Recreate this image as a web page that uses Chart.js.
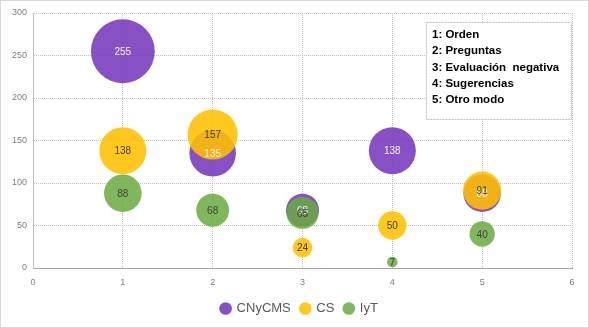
<!DOCTYPE html>
<html><head><meta charset="utf-8">
<script src="https://cdn.jsdelivr.net/npm/chart.js@4/dist/chart.umd.min.js"></script>
<style>
html,body{margin:0;padding:0;background:#fff;}
#wrap{position:relative;width:587px;height:326px;border:1px solid #D9D9D9;}
</style></head>
<body><div id="wrap"><canvas id="c" width="587" height="326"></canvas></div>
<script>
const categories = [1, 2, 3, 4, 5];
const seriesNames = ['CNyCMS', 'CS', 'IyT'];
const cnycms = [255, 135, 68, 138, 88];
const cs = [138, 157, 24, 50, 91];
const iyt = [88, 68, 65, 7, 40];
const xTicks = [0, 1, 2, 3, 4, 5, 6];
const yTicks = [0, 50, 100, 150, 200, 250, 300];
const noteLines = ['1: Orden', '2: Preguntas', '3: Evaluación  negativa', '4: Sugerencias', '5: Otro modo'];

const colors = ['rgba(118,56,188,0.88)', 'rgba(255,192,0,0.88)', 'rgba(106,170,64,0.85)'];
const labelColors = ['#F2F2F2', '#404040', '#404040'];
const allVals = [cnycms, cs, iyt];

function pts(vals){ return categories.map((c,i)=>({x:c, y:vals[i], r:2*Math.sqrt(vals[i])})); }

const labelPlugin = {
  id:'bubbleLabels',
  afterDatasetsDraw(chart){
    const ctx = chart.ctx;
    ctx.save();
    ctx.font = '10px "Liberation Sans", Arial, sans-serif';
    ctx.textAlign = 'center'; ctx.textBaseline = 'middle';
    [0,1,2].forEach(di=>{
      const meta = chart.getDatasetMeta(di);
      meta.data.forEach((el,i)=>{
        ctx.fillStyle = labelColors[di];
        ctx.fillText(String(allVals[di][i]), el.x, el.y+1);
      });
    });
    ctx.restore();
  }
};

const legendShift = {
  id:'legendShift',
  afterLayout(chart){
    if (chart.legend){ chart.legend.left += 13; chart.legend.right += 13; }
  }
};

const notePlugin = {
  id:'noteBox',
  afterDraw(chart){
    const ctx = chart.ctx;
    ctx.save();
    const x = 425.5, y = 21.5, w = 145, h = 97;
    ctx.fillStyle = '#fff';
    ctx.fillRect(x, y, w, h);
    ctx.strokeStyle = '#BFBFBF'; ctx.lineWidth = 1; ctx.setLineDash([2,1]);
    ctx.strokeRect(x, y, w, h);
    ctx.setLineDash([]);
    ctx.fillStyle = '#000';
    ctx.font = 'bold 11.5px "Liberation Sans", Arial, sans-serif';
    ctx.textAlign = 'left'; ctx.textBaseline = 'middle';
    noteLines.forEach((t,i)=>{ ctx.fillText(t, 431, 34 + i*16.3, 136); });
    ctx.restore();
  }
};

new Chart(document.getElementById('c'), {
  type:'bubble',
  data:{
    datasets: allVals.map((vals,di)=>({
      label: seriesNames[di],
      data: pts(vals),
      backgroundColor: colors[di],
      borderColor: colors[di],
      borderWidth: 0,
      clip: false,
      order: 2-di
    }))
  },
  options:{
    responsive:false,
    animation:false,
    layout:{autoPadding:false, padding:{left:0, right:16, top:12, bottom:2}},
    plugins:{
      tooltip:{enabled:false},
      legend:{
        position:'bottom',
        labels:{
          usePointStyle:true, pointStyle:'circle', boxWidth:9, boxHeight:9,
          color:'#595959', font:{size:13, family:'"Liberation Sans", Arial, sans-serif'},
          padding:10,
          sort:(a,b)=>a.datasetIndex-b.datasetIndex
        }
      }
    },
    scales:{
      x:{
        type:'linear', min:0, max:6,
        afterBuildTicks(s){ s.ticks = xTicks.map(v=>({value:v})); },
        afterFit(s){ s.height = 24; },
        ticks:{color:'#7F7F7F', font:{size:9, family:'"Liberation Sans", Arial, sans-serif'}, padding:9},
        grid:{color:'#C0C0C0', lineWidth:1, drawTicks:false},
        border:{color:'#A6A6A6', dash:[1,1]}
      },
      y:{
        type:'linear', min:0, max:300,
        afterBuildTicks(s){ s.ticks = yTicks.map(v=>({value:v})); },
        afterFit(s){ s.width = 32; },
        ticks:{color:'#7F7F7F', font:{size:9, family:'"Liberation Sans", Arial, sans-serif'}, padding:6},
        grid:{color:'#C0C0C0', lineWidth:1, drawTicks:false},
        border:{color:'#C0C0C0', dash:[1,1]}
      }
    }
  },
  plugins:[labelPlugin, notePlugin, legendShift]
});
</script>
</body></html>
